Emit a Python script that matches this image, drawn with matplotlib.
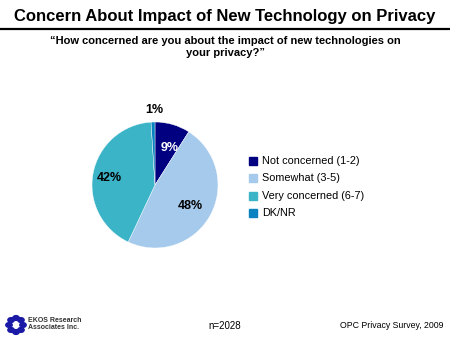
import matplotlib
matplotlib.use("Agg")
import matplotlib.pyplot as plt
import numpy as np
from matplotlib.patches import Rectangle, Circle
from matplotlib.lines import Line2D

categories = ["Not concerned (1-2)", "Somewhat (3-5)", "Very concerned (6-7)", "DK/NR"]
values = [9, 48, 42, 1]
labels = ["9%", "48%", "42%", "1%"]
colors = ["#000080", "#A6CAEC", "#3CB4C8", "#0A82C0"]

W, H = 450, 337
fig = plt.figure(figsize=(W / 100, H / 100), dpi=100)
fig.patch.set_facecolor("white")

def fx(x):
    return x / W

def fy(y):
    return 1 - y / H

# Title
fig.text(fx(225), fy(16), "Concern About Impact of New Technology on Privacy",
         ha="center", va="center", fontsize=12, fontweight="bold",
         family=["Liberation Sans", "DejaVu Sans"])
fig.add_artist(Line2D([fx(0), fx(450)], [fy(29), fy(29)], color="black", lw=1.6))

# Subtitle
fig.text(fx(225), fy(47), "\u201cHow concerned are you about the impact of new technologies on\nyour privacy?\u201d",
         ha="center", va="center", fontsize=8.0, fontweight="bold", linespacing=1.25,
         family=["Liberation Sans Narrow", "Liberation Sans", "DejaVu Sans"])

# Pie
cx, cy, r = 155, 185, 63
ax = fig.add_axes([fx(cx - r), fy(cy + r), 2 * r / W, 2 * r / H])
wedges, _ = ax.pie(values, colors=colors, startangle=90, counterclock=False,
                   wedgeprops=dict(linewidth=0.3, edgecolor="white"))
ax.set_xlim(-1.0, 1.0)
ax.set_ylim(-1.0, 1.0)
ax.set_aspect("equal")

label_pos = [(170, 148), (190, 206), (109, 178), (154, 110)]
label_cols = ["white", "black", "black", "black"]
for lab, (x, y), c in zip(labels, label_pos, label_cols):
    fig.text(fx(x), fy(y), lab, ha="center", va="center", fontsize=9,
             fontweight="bold", color=c, family=["Liberation Sans", "DejaVu Sans"])

# Legend
rows = [161, 178, 196, 213]
for cat, col, y in zip(categories, colors, rows):
    fig.add_artist(Rectangle((fx(249), fy(y + 4)), 8 / W, 8 / H, color=col,
                             transform=fig.transFigure))
    fig.text(fx(262), fy(y), cat, ha="left", va="center", fontsize=7.8,
             family=["Liberation Sans Narrow", "Liberation Sans", "DejaVu Sans"])

# Footer
fig.text(fx(225), fy(326), "n=2028", ha="center", va="center", fontsize=7,
         family=["Liberation Sans Narrow", "Liberation Sans", "DejaVu Sans"])
fig.text(fx(443), fy(325), "OPC Privacy Survey, 2009", ha="right", va="center", fontsize=6.3,
         family=["Liberation Sans Narrow", "Liberation Sans", "DejaVu Sans"])
fig.text(fx(28), fy(324), "EKOS Research\nAssociates Inc.", ha="left", va="center",
         fontsize=5, fontweight="bold", color="#333333", linespacing=1.0,
         family=["Liberation Sans", "DejaVu Sans"])
# logo: ring of blue dots
for ang in np.linspace(0, 2 * np.pi, 8, endpoint=False):
    px = 16 + 7 * np.cos(ang)
    py = 325 + 7 * np.sin(ang)
    fig.add_artist(Circle((fx(px), fy(py)), 3.2 / W, color="#1A1AA6",
                          transform=fig.transFigure))

fig.savefig("out.png", dpi=100)
